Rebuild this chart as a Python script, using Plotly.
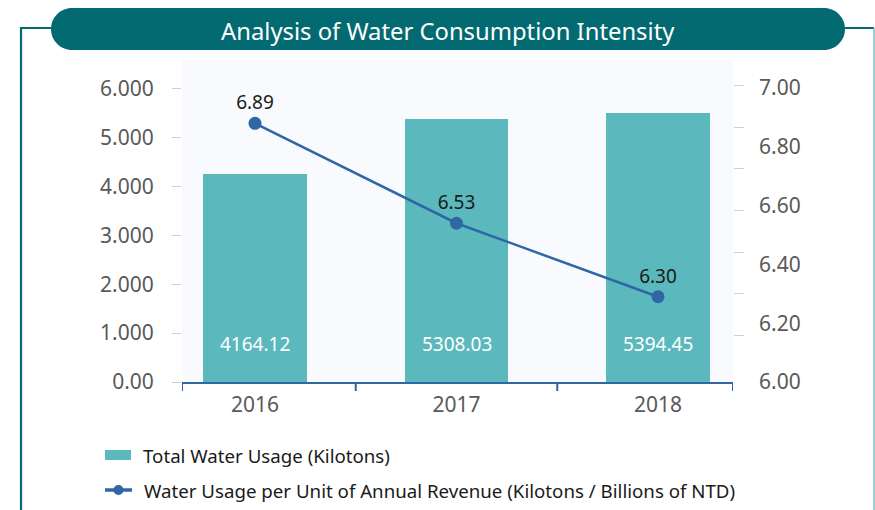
import plotly.graph_objects as go

# ---- data ----
years = ["2016", "2017", "2018"]
bar_heights = [4254, 5378, 5501]
bar_labels = ["4164.12", "5308.03", "5394.45"]
line_values = [6.88, 6.54, 6.29]
line_labels = ["6.89", "6.53", "6.30"]
left_tickvals = [0, 1000, 2000, 3000, 4000, 5000, 6000]
left_ticktext = ["0.00", "1.000", "2.000", "3.000", "4.000", "5.000", "6.000"]
right_tickvals = [6.0, 6.2, 6.4, 6.6, 6.8, 7.0]
right_ticktext = ["6.00", "6.20", "6.40", "6.60", "6.80", "7.00"]
right_minor_ticks = [7.010, 6.867, 6.725, 6.583, 6.442, 6.300, 6.158]
title_text = "Analysis of Water Consumption Intensity"
legend_bar = "Total Water Usage (Kilotons)"
legend_line = "Water Usage per Unit of Annual Revenue (Kilotons / Billions of NTD)"

# ---- style ----
W, H = 875, 510
L, R, T, B = 182, 733, 60, 382
BAR_C = "#5bb8bc"
LINE_C = "#2f67a5"
TEAL = "#036a72"
GRAY = "#595959"
FONT = "Noto Sans"

def px(x):
    return (x - L) / (R - L)

def py(y):
    return (B - y) / (B - T)

xs = list(range(len(years)))

fig = go.Figure()
fig.add_trace(go.Bar(
    x=xs, y=bar_heights, width=0.516, marker=dict(color=BAR_C, line=dict(width=0)),
    showlegend=False, hoverinfo="skip", yaxis="y"))
fig.add_trace(go.Scatter(
    x=xs, y=line_values, mode="lines+markers+text", text=line_labels,
    textposition="top center", textfont=dict(family=FONT, size=19, color="#1a1a1a"),
    line=dict(color=LINE_C, width=2.5), marker=dict(color=LINE_C, size=13),
    showlegend=False, hoverinfo="skip", yaxis="y2", cliponaxis=False))

annotations = []
for xi, lab in zip(xs, bar_labels):
    annotations.append(dict(x=xi, y=775, xref="x", yref="y", text=lab, showarrow=False,
                            xanchor="center", yanchor="middle",
                            font=dict(family=FONT, size=19, color="white")))

shapes = []
# category boundary ticks on x axis
x_left = (L - 255) / 201.5
x_right = (R - 255) / 201.5
for xv in [x_left, 0.5, 1.5, x_right]:
    shapes.append(dict(type="line", xref="x", yref="paper", x0=xv, x1=xv,
                       y0=0, y1=-9 / (B - T), line=dict(color=LINE_C, width=2)))

# frame lines
shapes.append(dict(type="path", xref="paper", yref="paper",
                   path=f"M {px(21)} {py(515)} L {px(21)} {py(28)} L {px(60)} {py(28)}",
                   line=dict(color=TEAL, width=2.2)))
shapes.append(dict(type="line", xref="paper", yref="paper", x0=px(835), x1=px(874),
                   y0=py(28), y1=py(28), line=dict(color=TEAL, width=2.2)))
shapes.append(dict(type="line", xref="paper", yref="paper", x0=px(874), x1=px(874),
                   y0=py(28), y1=py(515), line=dict(color="#7dbdc1", width=1.5)))

# title pill
x0p, x1p, y0p, y1p, r = 51, 845, 8, 50, 21
k = 0.5523 * r
pts = [
    f"M {px(x0p + r)} {py(y0p)}",
    f"L {px(x1p - r)} {py(y0p)}",
    f"C {px(x1p - r + k)} {py(y0p)} {px(x1p)} {py(y0p + r - k)} {px(x1p)} {py(y0p + r)}",
    f"C {px(x1p)} {py(y1p - r + k)} {px(x1p - r + k)} {py(y1p)} {px(x1p - r)} {py(y1p)}",
    f"L {px(x0p + r)} {py(y1p)}",
    f"C {px(x0p + r - k)} {py(y1p)} {px(x0p)} {py(y1p - r + k)} {px(x0p)} {py(y1p - r)}",
    f"C {px(x0p)} {py(y0p + r - k)} {px(x0p + r - k)} {py(y0p)} {px(x0p + r)} {py(y0p)}",
    "Z",
]
shapes.append(dict(type="path", xref="paper", yref="paper", path=" ".join(pts),
                   fillcolor=TEAL, line=dict(width=0)))
annotations.append(dict(x=px(448), y=py(31), xref="paper", yref="paper", text=title_text,
                        showarrow=False, xanchor="center", yanchor="middle",
                        font=dict(family=FONT, size=23.8, color="white")))

# legend (manual)
shapes.append(dict(type="rect", xref="paper", yref="paper", x0=px(105), x1=px(131),
                   y0=py(450), y1=py(460), fillcolor=BAR_C, line=dict(width=0)))
shapes.append(dict(type="line", xref="paper", yref="paper", x0=px(105), x1=px(132),
                   y0=py(490), y1=py(490), line=dict(color=LINE_C, width=3.5)))
shapes.append(dict(type="circle", xref="paper", yref="paper", x0=px(113.5), x1=px(123.5),
                   y0=py(485), y1=py(495), fillcolor=LINE_C, line=dict(width=0)))
annotations.append(dict(x=px(141), y=py(455), xref="paper", yref="paper", text=legend_bar,
                        showarrow=False, xanchor="left", yanchor="middle",
                        font=dict(family=FONT, size=18.7, color="#1a1a1a")))
annotations.append(dict(x=px(142), y=py(490), xref="paper", yref="paper", text=legend_line,
                        showarrow=False, xanchor="left", yanchor="middle",
                        font=dict(family=FONT, size=18.7, color="#1a1a1a")))

fig.update_layout(
    width=W, height=H,
    margin=dict(l=L, r=W - R, t=T, b=H - B, pad=0),
    paper_bgcolor="white", plot_bgcolor="#f8fafd",
    font=dict(family=FONT, color=GRAY),
    bargap=0,
    xaxis=dict(range=[x_left, x_right], tickvals=xs, ticktext=years, ticks="",
               showgrid=False, zeroline=False, showline=True, linecolor=LINE_C, linewidth=2,
               tickfont=dict(family=FONT, size=21, color=GRAY), ticklabelstandoff=3,
               fixedrange=True),
    yaxis=dict(range=[0, (B - T) / 48.9 * 1000], tickvals=left_tickvals, ticktext=left_ticktext,
               ticks="outside", ticklen=9, tickcolor="#d0d0d0", tickwidth=1,
               showgrid=False, zeroline=False, showline=False,
               tickfont=dict(family=FONT, size=21, color=GRAY), ticklabelstandoff=14,
               fixedrange=True),
    yaxis2=dict(range=[6.0, 6.0 + (B - T) / 294], overlaying="y", side="right",
                tickvals=right_tickvals, ticktext=right_ticktext, ticks="",
                minor=dict(tickvals=right_minor_ticks, ticks="outside", ticklen=10,
                           tickcolor="#d0d0d0", tickwidth=1, showgrid=False),
                showgrid=False, zeroline=False, showline=False,
                tickfont=dict(family=FONT, size=21, color=GRAY), ticklabelstandoff=25,
                fixedrange=True),
    shapes=shapes, annotations=annotations,
)

fig.write_html("out.html", config={"displayModeBar": False},
               post_script="document.body.style.margin='0px';document.body.style.overflow='hidden';")
